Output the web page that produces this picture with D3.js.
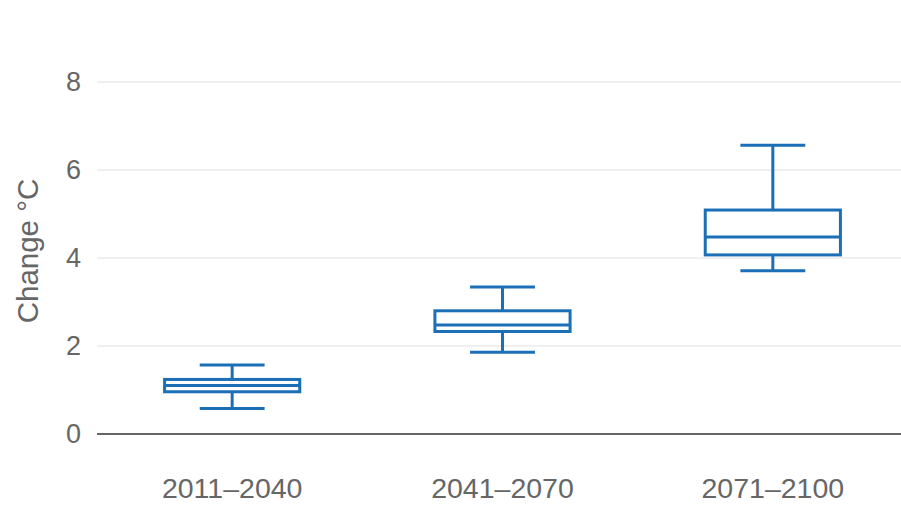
<!DOCTYPE html>
<html>
<head>
<meta charset="utf-8">
<script src="https://cdn.jsdelivr.net/npm/d3@7"></script>
<style>
  html, body { margin: 0; padding: 0; background: #fff; }
  svg { display: block; font-family: "Liberation Sans", Arial, sans-serif; }
</style>
</head>
<body>
<svg id="chart" width="901" height="505"></svg>
<script>
// Projected temperature change by period (°C)
const periods = ["2011\u20132040", "2041\u20132070", "2071\u20132100"];
const lowWhisker = [0.58, 1.86, 3.71];
const q1 = [0.96, 2.33, 4.07];
const median = [1.10, 2.48, 4.48];
const q3 = [1.24, 2.80, 5.09];
const highWhisker = [1.57, 3.34, 6.56];
const yTicks = [0, 2, 4, 6, 8];

const boxes = periods.map((p, i) => ({
  period: p, lo: lowWhisker[i], q1: q1[i], med: median[i], q3: q3[i], hi: highWhisker[i]
}));

const svg = d3.select("#chart");
const plotLeft = 97, plotRight = 908, plotTop = 82, plotBottom = 434;
const blue = "#1b6fb7";

const x = d3.scaleBand().domain(periods).range([plotLeft, plotRight]).padding(0);
const y = d3.scaleLinear().domain([0, 8]).range([plotBottom, plotTop]);

// horizontal gridlines
svg.append("g")
  .selectAll("line")
  .data(yTicks.filter(t => t !== 0))
  .join("line")
  .attr("x1", plotLeft).attr("x2", plotRight)
  .attr("y1", d => y(d)).attr("y2", d => y(d))
  .attr("stroke", "#ebebeb").attr("stroke-width", 1.5);

// y axis tick labels
const yAxis = d3.axisLeft(y).tickValues(yTicks).tickSize(0).tickPadding(16);
svg.append("g")
  .attr("transform", `translate(${plotLeft},0)`)
  .call(yAxis)
  .call(g => g.select(".domain").remove())
  .call(g => g.selectAll("text")
    .attr("fill", "#666").attr("font-size", 27)
    .attr("font-family", "Liberation Sans, Arial, sans-serif"));

// baseline
svg.append("line")
  .attr("x1", plotLeft).attr("x2", plotRight)
  .attr("y1", y(0)).attr("y2", y(0))
  .attr("stroke", "#666").attr("stroke-width", 2);

// x axis labels
const xAxis = d3.axisBottom(x).tickSize(0).tickPadding(44);
svg.append("g")
  .attr("transform", `translate(0,${plotBottom})`)
  .call(xAxis)
  .call(g => g.select(".domain").remove())
  .call(g => g.selectAll("text")
    .attr("fill", "#666").attr("font-size", 28.5)
    .attr("font-family", "Liberation Sans, Arial, sans-serif"));

// y axis title
svg.append("text")
  .attr("transform", `translate(38,251) rotate(-90)`)
  .attr("text-anchor", "middle")
  .attr("fill", "#666")
  .attr("font-size", 29.5)
  .text("Change \u00B0C");

// box plots
const bw = x.bandwidth();
const boxW = bw * 0.5;
const capW = bw * 0.24;
const g = svg.append("g").selectAll("g")
  .data(boxes)
  .join("g")
  .attr("transform", d => `translate(${x(d.period) + bw / 2},0)`)
  .attr("stroke", blue).attr("stroke-width", 3).attr("fill", "none");

// whisker stems
g.append("line")
  .attr("x1", 0).attr("x2", 0)
  .attr("y1", d => y(d.hi)).attr("y2", d => y(d.q3));
g.append("line")
  .attr("x1", 0).attr("x2", 0)
  .attr("y1", d => y(d.q1)).attr("y2", d => y(d.lo));
// whisker caps
g.append("line")
  .attr("x1", -capW / 2).attr("x2", capW / 2)
  .attr("y1", d => y(d.hi)).attr("y2", d => y(d.hi));
g.append("line")
  .attr("x1", -capW / 2).attr("x2", capW / 2)
  .attr("y1", d => y(d.lo)).attr("y2", d => y(d.lo));
// box
g.append("rect")
  .attr("x", -boxW / 2).attr("width", boxW)
  .attr("y", d => y(d.q3))
  .attr("height", d => y(d.q1) - y(d.q3))
  .attr("fill", "#fff");
// median
g.append("line")
  .attr("x1", -boxW / 2).attr("x2", boxW / 2)
  .attr("y1", d => y(d.med)).attr("y2", d => y(d.med));
</script>
</body>
</html>
